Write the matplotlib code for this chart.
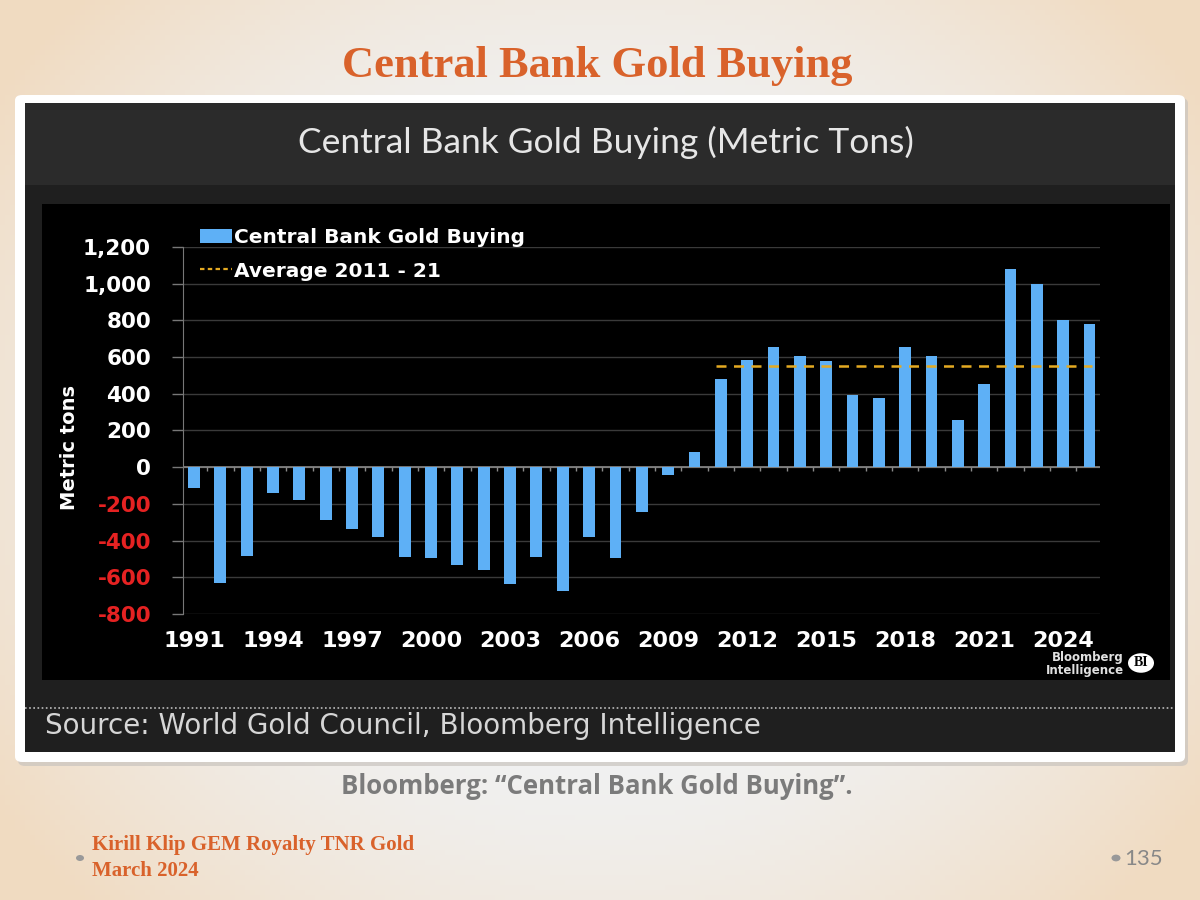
import numpy as np
import matplotlib
matplotlib.use("Agg")
import matplotlib.pyplot as plt
from matplotlib.patches import Rectangle, FancyBboxPatch, Circle, Patch
from matplotlib.lines import Line2D

# data (metric tons per year)
years = list(range(1991, 2026))
buying = [-113, -633, -484, -140, -178, -289, -336, -380, -489, -493,
          -533, -558, -635, -491, -673, -380, -496, -245, -40, 82,
          482, 584, 653, 604, 580, 395, 378, 656, 605, 255,
          451, 1080, 998, 800, 782]
avg_2011_21 = 553
avg_span = (2010.8, 2025.1)
xtick_years = list(range(1991, 2025, 3))
ytick_vals = list(range(-800, 1201, 200))

W, H = 1200, 900
BLUE = "#5eb0f6"
ORANGE = "#d9622b"


def fx(px):
    return px / W


def fy(py):
    return 1 - py / H


def box(x0, y0, x1, y1):
    # pixel box (top-left origin) -> figure fraction (x, y, w, h)
    return fx(x0), fy(y1), (x1 - x0) / W, (y1 - y0) / H


fig = plt.figure(figsize=(12, 9), dpi=100)

# slide background with a soft warm vignette
bg = fig.add_axes([0, 0, 1, 1], zorder=-10)
gx, gy = np.meshgrid(np.linspace(-1, 1, 240), np.linspace(-1, 1, 180))
r = np.clip(np.sqrt((gx / 1.05) ** 2 + (gy / 1.25) ** 2) - 0.55, 0, 1) / 0.6
r = np.clip(r, 0, 1) ** 1.4
c0 = np.array([0.945, 0.945, 0.945])
c1 = np.array([0.945, 0.86, 0.76])
img = c0[None, None, :] * (1 - r[..., None]) + c1[None, None, :] * r[..., None]
bg.imshow(img, extent=[0, 1, 0, 1], aspect="auto")
bg.set_axis_off()

# slide title
fig.text(fx(597), fy(66), "Central Bank Gold Buying", color=ORANGE,
         fontsize=32, fontweight="bold", family="Liberation Serif",
         ha="center", va="center")

# white card with shadow
x, y, w, h = box(18, 98, 1188, 766)
fig.patches.append(FancyBboxPatch((x, y), w, h, boxstyle="round,pad=0,rounding_size=0.006",
                                  transform=fig.transFigure, fc="#c9c4bf", ec="none",
                                  alpha=0.7, zorder=0))
x, y, w, h = box(15, 95, 1185, 762)
fig.patches.append(FancyBboxPatch((x, y), w, h, boxstyle="round,pad=0,rounding_size=0.006",
                                  transform=fig.transFigure, fc="white", ec="none", zorder=1))

# dark panels
for (x0, y0, x1, y1), col in [((25, 103, 1175, 752), "#1f1f1f"),
                              ((25, 103, 1175, 185), "#2b2b2b"),
                              ((42, 204, 1170, 680), "#000000")]:
    fig.patches.append(Rectangle(box(x0, y0, x1, y1)[:2], *box(x0, y0, x1, y1)[2:],
                                 transform=fig.transFigure, fc=col, ec="none", zorder=2))

fig.text(fx(606), fy(142), "Central Bank Gold Buying (Metric Tons)", color="#e6e6e6",
         fontsize=25.5, family="Lato", ha="center", va="center", zorder=5)

# dotted separator and source line
fig.add_artist(Line2D([fx(25), fx(1175)], [fy(708), fy(708)], transform=fig.transFigure,
                      color="#bdbdbd", lw=1.2, ls=(0, (1, 1.5)), zorder=5))
fig.text(fx(45), fy(726), "Source: World Gold Council, Bloomberg Intelligence",
         color="#d6d6d6", fontsize=20, family="DejaVu Sans",
         ha="left", va="center", zorder=5)

# main bar chart
ax = fig.add_axes(box(183, 247, 1100, 614), zorder=6)
ax.set_facecolor("none")
ax.bar(years, buying, width=0.45, color=BLUE, zorder=3, label="Central Bank Gold Buying")
ax.hlines(avg_2011_21, avg_span[0], avg_span[1], colors="#e4aa22", linestyles=(0, (4, 3)),
          lw=1.8, zorder=4)
ax.set_xlim(1990.58, 2025.4)
ax.set_ylim(-800, 1200)
ax.set_yticks(ytick_vals)
ax.set_yticklabels([f"{v:,}" for v in ytick_vals])
ax.set_xticks(xtick_years)
ax.set_xticklabels([str(v) for v in xtick_years])
ax.tick_params(axis="y", color="#777777", length=8, width=1, pad=15,
               labelsize=15.5)
ax.tick_params(axis="x", length=0, pad=12, labelsize=16, labelcolor="white")
for lab, v in zip(ax.get_yticklabels(), ytick_vals):
    lab.set_color("#e52222" if v < 0 else "white")
for lab in ax.get_yticklabels() + ax.get_xticklabels():
    lab.set_fontweight("bold")
for v in ytick_vals:
    ax.axhline(v, color="#3a3a3a", lw=1, zorder=1)
ax.axhline(0, color="#8a8a8a", lw=1.2, zorder=2)
ax.vlines(np.array(years) + 0.5, -22, 0, color="#8a8a8a", lw=1, zorder=2)
for s in ["top", "right", "bottom"]:
    ax.spines[s].set_visible(False)
ax.spines["left"].set_color("#777777")
ax.set_ylabel("Metric tons", color="white", fontsize=14, fontweight="bold")
ax.yaxis.set_label_coords(-0.113, 0.455)

handles = [Patch(fc=BLUE, ec="none"),
           Line2D([0], [0], color="#e4aa22", ls=(0, (2, 1.5)), lw=1.6)]
leg = ax.legend(handles, ["Central Bank Gold Buying", "Average 2011 - 21"],
                loc="upper left", bbox_to_anchor=(-0.001, 1.1), frameon=False,
                handlelength=1.6, handletextpad=0.1, labelspacing=0.7,
                prop={"weight": "bold", "size": 14.5})
for t in leg.get_texts():
    t.set_color("white")

# Bloomberg Intelligence mark
fig.text(fx(1124), fy(664), "Bloomberg\nIntelligence", color="#e0e0e0", fontsize=8.5,
         fontweight="bold", ha="right", va="center", linespacing=0.95, zorder=7)
fig.add_artist(Circle((fx(1141), fy(663)), 13 / W, transform=fig.transFigure,
                      fc="white", ec="none", zorder=7))
fig.text(fx(1141), fy(663), "BI", color="black", fontsize=10, fontweight="bold",
         family="Liberation Serif", ha="center", va="center", zorder=8)

# caption and footer
fig.text(fx(597), fy(787), "Bloomberg: \u201cCentral Bank Gold Buying\u201d.", color="#7b7b7b",
         fontsize=18.5, fontweight="bold", family="Open Sans", ha="center", va="center")
fig.add_artist(Circle((fx(80), fy(858)), 4 / W, transform=fig.transFigure, fc="#999999", ec="none"))
fig.text(fx(92), fy(845), "Kirill Klip GEM Royalty TNR Gold", color=ORANGE, fontsize=15,
         fontweight="bold", family="Liberation Serif", ha="left", va="center")
fig.text(fx(92), fy(871), "March 2024", color=ORANGE, fontsize=15,
         fontweight="bold", family="Liberation Serif", ha="left", va="center")
fig.add_artist(Circle((fx(1116), fy(858)), 4.5 / W, transform=fig.transFigure, fc="#999999", ec="none"))
fig.text(fx(1124), fy(859), "135", color="#888888", fontsize=16, family="Lato",
         ha="left", va="center")

fig.savefig("out.png", dpi=100)
